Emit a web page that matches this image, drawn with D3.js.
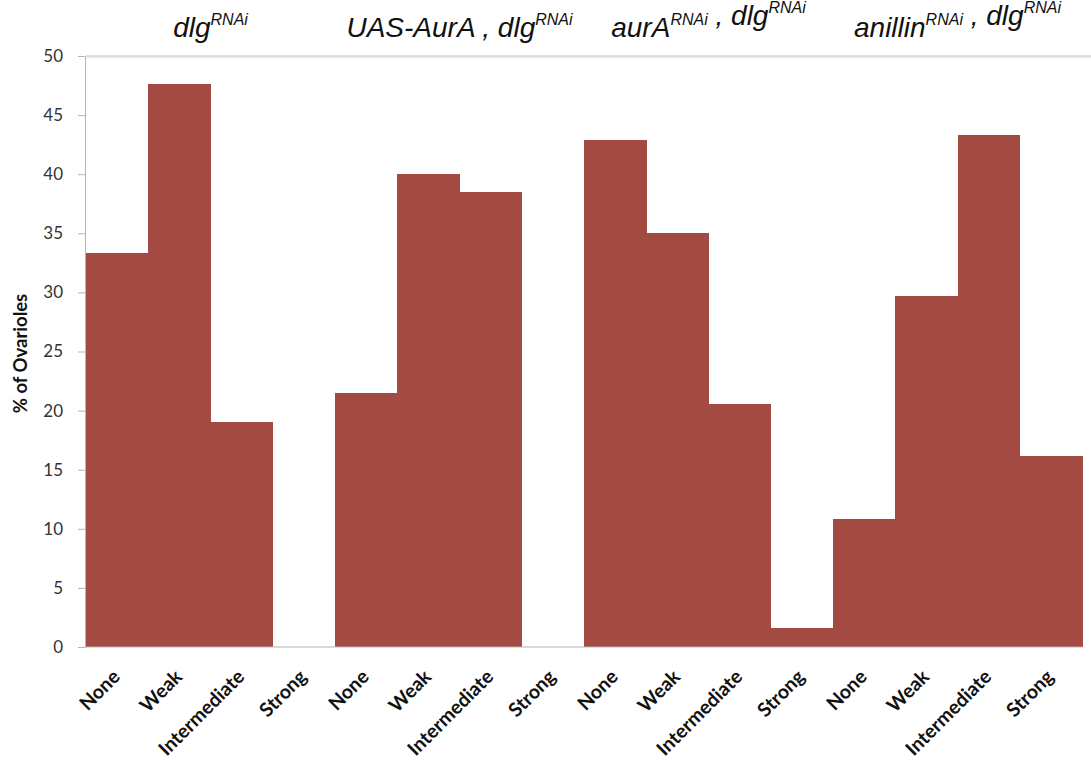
<!DOCTYPE html>
<html>
<head>
<meta charset="utf-8">
<script src="https://cdn.jsdelivr.net/npm/d3@7"></script>
<style>
  html, body { margin: 0; padding: 0; background: #fff; }
  svg { display: block; }
</style>
</head>
<body>
<svg id="chart" width="1091" height="760"></svg>
<script>
// Genotype groups and phenotype classes
const groups = ["dlg", "UAS-AurA", "aurA", "anillin"];
const classes = ["None", "Weak", "Intermediate", "Strong"];

// % of ovarioles per class, one array per genotype
const dlgValues = [33.3, 47.6, 19.0, 0];
const uasAurAValues = [21.5, 40.0, 38.5, 0];
const aurAValues = [42.9, 35.0, 20.6, 1.6];
const anillinValues = [10.8, 29.7, 43.3, 16.2];

const yTicks = [0, 5, 10, 15, 20, 25, 30, 35, 40, 45, 50];

// Group titles: [main, superscript] pieces
const titles = [
  [["dlg", "RNAi"]],
  [["UAS-AurA , dlg", "RNAi"]],
  [["aurA", "RNAi"], [" , dlg", "RNAi"]],
  [["anillin", "RNAi"], [" , dlg", "RNAi"]]
];

const seriesByGroup = [dlgValues, uasAurAValues, aurAValues, anillinValues];
const rows = [];
groups.forEach((g, gi) => {
  classes.forEach((c, ci) => {
    rows.push({ key: g + "|" + c, group: g, gi, label: c, value: seriesByGroup[gi][ci] });
  });
});

const svg = d3.select("#chart");
const margin = { left: 86, right: 9, top: 56, bottom: 113 };
const W = 1091, H = 760;

const x = d3.scaleBand()
  .domain(rows.map(d => d.key))
  .range([margin.left, W - margin.right])
  .paddingInner(0).paddingOuter(0);

const y = d3.scaleLinear()
  .domain([0, 50])
  .range([H - margin.bottom, margin.top]);

const barColor = "#a34a42";

// Top gridline with a faint shadow
svg.append("line")
  .attr("x1", margin.left).attr("x2", W)
  .attr("y1", y(50) + 1.5).attr("y2", y(50) + 1.5)
  .attr("stroke", "#f0f0f0").attr("stroke-width", 2);
svg.append("line")
  .attr("x1", margin.left).attr("x2", W)
  .attr("y1", y(50)).attr("y2", y(50))
  .attr("stroke", "#bdbdbd").attr("stroke-width", 1);

// Bars (adjacent, no gaps within a run)
svg.append("g")
  .attr("shape-rendering", "crispEdges")
  .selectAll("rect")
  .data(rows.filter(d => d.value > 0))
  .join("rect")
  .attr("x", d => x(d.key))
  .attr("y", d => y(d.value))
  .attr("width", x.bandwidth() + 0.6)
  .attr("height", d => y(0) - y(d.value))
  .attr("fill", barColor);

// Y axis
const yAxis = d3.axisLeft(y)
  .tickValues(yTicks)
  .tickSize(7)
  .tickPadding(15)
  .tickSizeOuter(0);
const gy = svg.append("g")
  .attr("transform", `translate(${margin.left - 1},0)`)
  .call(yAxis);
gy.selectAll("path, line").attr("stroke", "#b5b5b5");
gy.selectAll("text")
  .attr("font-family", "Lato, 'Open Sans', sans-serif")
  .attr("font-size", 17)
  .attr("fill", "#333");

// X axis baseline
svg.append("line")
  .attr("x1", margin.left - 1).attr("x2", W - margin.right)
  .attr("y1", y(0)).attr("y2", y(0))
  .attr("stroke", "#b5b5b5").attr("stroke-width", 1);

// Rotated category labels
const xAxis = d3.axisBottom(x)
  .tickSize(0)
  .tickFormat(k => k.split("|")[1]);
const gx = svg.append("g")
  .attr("transform", `translate(0,${y(0)})`)
  .call(xAxis);
gx.select(".domain").remove();
gx.selectAll("text")
  .attr("font-family", "Lato, 'Open Sans', sans-serif")
  .attr("font-weight", "bold")
  .attr("font-size", 19.5)
  .attr("fill", "#111")
  .attr("text-anchor", "end")
  .attr("dy", null)
  .attr("y", 0)
  .attr("transform", "translate(4,31) rotate(-45)");

// Y axis title
svg.append("text")
  .attr("transform", `translate(27,${(y(0) + y(50)) / 2 + 2}) rotate(-90)`)
  .attr("text-anchor", "middle")
  .attr("font-family", "Lato, 'Open Sans', sans-serif")
  .attr("font-weight", "bold")
  .attr("font-size", 18.5)
  .attr("fill", "#111")
  .text("% of Ovarioles");

// Group titles centred over their four bars
titles.forEach((parts, gi) => {
  const first = x(groups[gi] + "|" + classes[0]);
  const last = x(groups[gi] + "|" + classes[3]) + x.bandwidth();
  const t = svg.append("text")
    .attr("x", (first + last) / 2)
    .attr("y", 37)
    .attr("text-anchor", "middle")
    .attr("font-family", "'Liberation Sans', Arial, sans-serif")
    .attr("font-style", "italic")
    .attr("font-size", 28)
    .attr("fill", "#111");
  parts.forEach(([main, sup]) => {
    t.append("tspan").text(main);
    if (sup) {
      t.append("tspan")
        .attr("font-size", 16)
        .attr("dy", -12)
        .text(sup);
      t.append("tspan").attr("dy", 12).text("");
    }
  });
});
</script>
</body>
</html>
